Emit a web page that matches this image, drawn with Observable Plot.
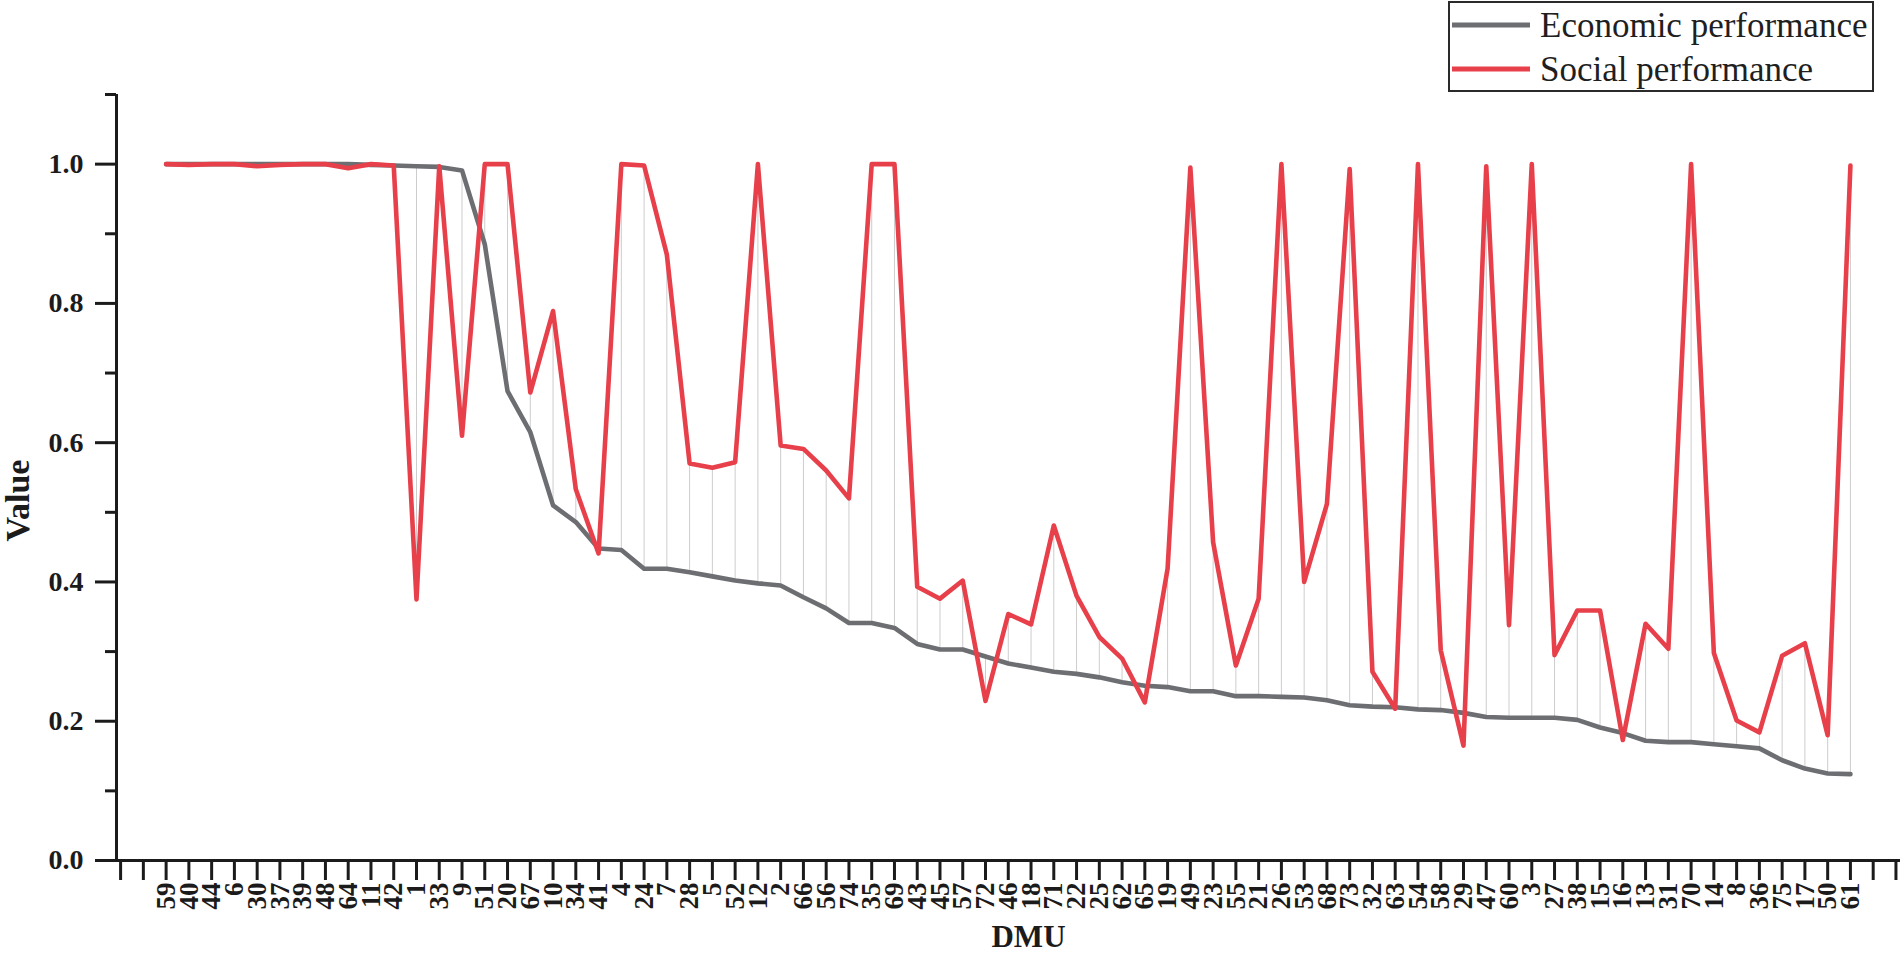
<!DOCTYPE html>
<html>
<head>
<meta charset="utf-8">
<script src="https://cdn.jsdelivr.net/npm/d3@7"></script>
<script src="https://cdn.jsdelivr.net/npm/@observablehq/plot@0.6"></script>
<style>
  html, body { margin: 0; padding: 0; background: #fff; }
  #wrap { position: relative; width: 1904px; height: 954px; overflow: hidden; }
  #chart svg { position: absolute; left: 0; top: 0; }
  #legend { position: absolute; left: 1448px; top: 1px; }
</style>
</head>
<body>
<div id="wrap">
  <div id="chart"></div>
  <div id="legend"></div>
</div>
<script>
// ---- data ----
const dmu = ["59","40","44","6","30","37","39","48","64","11",
             "42","1","33","9","51","20","67","10","34","41",
             "4","24","7","28","5","52","12","2","66","56",
             "74","35","69","43","45","57","72","46","18","71",
             "22","25","62","65","19","49","23","55","21","26",
             "53","68","73","32","63","54","58","29","47","60",
             "3","27","38","15","16","13","31","70","14","8",
             "36","75","17","50","61"];

const economic = [1.0, 1.0, 1.0, 1.0, 1.0, 1.0, 1.0, 1.0, 1.0, 0.999,
                  0.998, 0.997, 0.996, 0.991, 0.885, 0.674, 0.615, 0.510, 0.486, 0.448,
                  0.446, 0.419, 0.419, 0.414, 0.408, 0.402, 0.398, 0.395, 0.378, 0.362,
                  0.341, 0.341, 0.334, 0.311, 0.303, 0.303, 0.293, 0.283, 0.277, 0.271,
                  0.268, 0.263, 0.256, 0.251, 0.249, 0.243, 0.243, 0.236, 0.236, 0.235,
                  0.234, 0.230, 0.223, 0.221, 0.220, 0.217, 0.216, 0.212, 0.206, 0.205,
                  0.205, 0.205, 0.202, 0.191, 0.183, 0.172, 0.170, 0.170, 0.167, 0.164,
                  0.161, 0.144, 0.132, 0.125, 0.124];

const social = [1.0, 0.999, 1.0, 1.0, 0.997, 0.999, 1.0, 1.0, 0.994, 1.0,
                0.998, 0.375, 0.997, 0.610, 1.0, 1.0, 0.672, 0.789, 0.533, 0.441,
                1.0, 0.998, 0.870, 0.570, 0.564, 0.572, 1.0, 0.596, 0.591, 0.560,
                0.520, 1.0, 1.0, 0.393, 0.376, 0.402, 0.229, 0.354, 0.339, 0.481,
                0.380, 0.321, 0.290, 0.227, 0.419, 0.995, 0.457, 0.280, 0.376, 1.0,
                0.400, 0.512, 0.993, 0.271, 0.218, 1.0, 0.302, 0.165, 0.997, 0.338,
                1.0, 0.295, 0.359, 0.359, 0.173, 0.340, 0.304, 1.0, 0.298, 0.201,
                0.184, 0.294, 0.312, 0.180, 0.998];

const seriesNames = ["Economic performance", "Social performance"];
const seriesColors = ["#6d6e72", "#e8404b"];
const yMajorTicks = [0, 0.2, 0.4, 0.6, 0.8, 1.0];
const yMinorTicks = [0.1, 0.3, 0.5, 0.7, 0.9, 1.1];
const xDomain = [-2.18, 76.2];
const yDomain = [0, 1.1];

// ---- table ----
const rows = dmu.map((d, i) => ({i, dmu: d, economic: economic[i], social: social[i]}));
const xTicks = d3.range(-2, 77);

const FONT = "'Liberation Serif', 'Times New Roman', Times, serif";
const INK = "#1b1b1b";

const chart = Plot.plot({
  width: 1904,
  height: 954,
  marginLeft: 116,
  marginRight: 4,
  marginTop: 94,
  marginBottom: 94,
  style: {fontFamily: FONT, fontWeight: "bold", color: INK, background: "transparent", overflow: "visible"},
  x: {type: "linear", domain: xDomain},
  y: {domain: yDomain},
  marks: [
    // connecting rules between the two series
    Plot.ruleX(rows, {x: "i", y1: "economic", y2: "social", stroke: "#cdcdcd", strokeWidth: 1}),
    Plot.line(rows, {x: "i", y: "economic", stroke: seriesColors[0], strokeWidth: 4.6, strokeLinejoin: "round"}),
    Plot.line(rows, {x: "i", y: "social", stroke: seriesColors[1], strokeWidth: 4.6, strokeLinejoin: "round"}),
    // axes lines
    Plot.ruleX([xDomain[0]], {y1: yDomain[0], y2: yDomain[1], stroke: INK, strokeWidth: 3}),
    Plot.ruleY([yDomain[0]], {stroke: INK, strokeWidth: 3}),
    // y axis
    Plot.axisY({ticks: yMajorTicks, tickSize: 21, tickPadding: 12, tickFormat: d3.format(".1f"),
                fontSize: 28, fontWeight: "bold", strokeWidth: 3, label: null}),
    Plot.axisY({ticks: yMinorTicks, tickSize: 11, tickFormat: () => "", strokeWidth: 3, label: null}),
    // x axis
    Plot.axisX({ticks: xTicks, tickSize: 20, tickPadding: 2, tickRotate: -90,
                tickFormat: i => (dmu[i] !== undefined ? dmu[i] : ""),
                fontSize: 27, fontWeight: "bold", strokeWidth: 3, label: null}),
    // axis titles
    Plot.text(["Value"], {frameAnchor: "left", textAnchor: "middle", lineAnchor: "middle",
                          dx: -98, dy: 23, rotate: -90, fontSize: 34, fontWeight: "bold", fill: INK}),
    Plot.text(["DMU"], {frameAnchor: "bottom", textAnchor: "middle", dx: 20, dy: 86,
                        fontSize: 31, fontWeight: "bold", fill: INK})
  ]
});
document.getElementById("chart").appendChild(chart);

// ---- legend (top-right box) ----
const lg = d3.select("#legend").append("svg")
  .attr("width", 426).attr("height", 92)
  .style("font-family", FONT);
lg.append("rect").attr("x", 1).attr("y", 1).attr("width", 424).attr("height", 89)
  .attr("fill", "#fff").attr("stroke", "#2a2a2a").attr("stroke-width", 2);
seriesNames.forEach((name, k) => {
  const cy = k === 0 ? 24 : 68;
  lg.append("line").attr("x1", 4).attr("x2", 82).attr("y1", cy).attr("y2", cy)
    .attr("stroke", seriesColors[k]).attr("stroke-width", 5);
  lg.append("text").attr("x", 92).attr("y", cy + 12).attr("font-size", 35)
    .attr("fill", "#1f1f1f").text(name);
});
</script>
</body>
</html>
